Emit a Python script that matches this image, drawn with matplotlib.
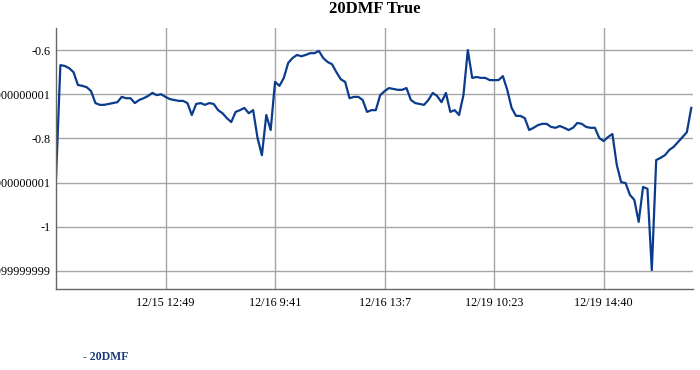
import matplotlib
matplotlib.use("Agg")
import matplotlib.pyplot as plt
import numpy as np

plt.rcParams['font.family'] = ['Liberation Serif', 'DejaVu Serif']

# 20DMF series, one value per sample
values = [
    -0.890, -0.634, -0.636, -0.641, -0.650, -0.679, -0.681, -0.684, -0.693, -0.720,
    -0.724, -0.724, -0.722, -0.720, -0.718, -0.706, -0.709, -0.709, -0.720, -0.713,
    -0.709, -0.704, -0.697, -0.702, -0.700, -0.706, -0.711, -0.713, -0.715, -0.715,
    -0.720, -0.747, -0.722, -0.720, -0.724, -0.720, -0.722, -0.736, -0.743, -0.754,
    -0.763, -0.740, -0.736, -0.731, -0.743, -0.736, -0.799, -0.838, -0.747, -0.781,
    -0.672, -0.681, -0.663, -0.629, -0.618, -0.611, -0.614, -0.611, -0.607, -0.607,
    -0.602, -0.618, -0.627, -0.632, -0.650, -0.666, -0.672, -0.709, -0.706, -0.706,
    -0.713, -0.740, -0.736, -0.736, -0.702, -0.693, -0.686, -0.688, -0.690, -0.690,
    -0.686, -0.713, -0.720, -0.722, -0.724, -0.713, -0.697, -0.704, -0.718, -0.697,
    -0.740, -0.736, -0.747, -0.702, -0.600, -0.663, -0.661, -0.663, -0.663, -0.668,
    -0.668, -0.668, -0.659, -0.690, -0.731, -0.749, -0.749, -0.754, -0.781, -0.776,
    -0.770, -0.767, -0.767, -0.774, -0.776, -0.772, -0.776, -0.781, -0.776, -0.765,
    -0.767, -0.774, -0.776, -0.776, -0.799, -0.806, -0.797, -0.790, -0.860, -0.899,
    -0.901, -0.928, -0.939, -0.989, -0.910, -0.914, -1.098, -0.849, -0.844, -0.838,
    -0.826, -0.819, -0.808, -0.797, -0.786, -0.731,
]

tick_idx = [25, 50, 75, 100, 125]
tick_labels = ["12/15 12:49", "12/16 9:41", "12/16 13:7", "12/19 10:23", "12/19 14:40"]

y_ticks = [-0.6, -0.7, -0.8, -0.9, -1.0, -1.1]
y_labels = ["-0.6", "-0.7000000000000001", "-0.8", "-0.9000000000000001", "-1",
            "-1.0999999999999999"]

line_color = "#0b3b8c"

fig = plt.figure(figsize=(7, 3.7), dpi=100)
ax = fig.add_axes([56 / 700, 81 / 370, 637 / 700, 261 / 370])

x = np.arange(len(values))
ax.plot(x, values, color=line_color, lw=1.6, solid_joinstyle="round")

ax.set_xlim(0, 145.4)
ax.set_ylim(-1.141, -0.550)

ax.set_xticks(tick_idx)
ax.set_xticklabels(tick_labels)
ax.set_yticks(y_ticks)
ax.set_yticklabels(y_labels)
ax.tick_params(axis="both", length=0, labelsize=8.7, colors="black")
ax.tick_params(axis="x", pad=6)
ax.tick_params(axis="y", pad=4)

ax.grid(True, color="#a6a6a6", lw=1)
ax.set_axisbelow(True)
for side in ["top", "right"]:
    ax.spines[side].set_visible(False)
for side in ["left", "bottom"]:
    ax.spines[side].set_color("#666666")
    ax.spines[side].set_linewidth(1)

fig.text(374.5 / 700, 1 - 9 / 370, "20DMF True", ha="center", va="center",
         fontsize=12, fontweight="bold")
fig.text(83 / 700, 1 - 357 / 370, "- 20DMF", ha="left", va="center",
         fontsize=8.5, fontweight="bold", color="#1a3a7a")

fig.savefig("out.png", dpi=100)
